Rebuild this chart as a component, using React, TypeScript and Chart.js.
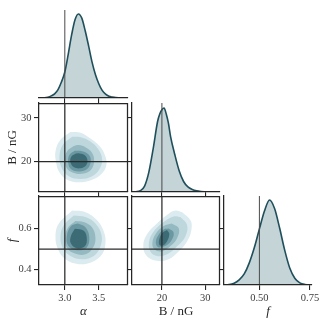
import React, { useEffect, useRef } from "react";
import { Chart, registerables } from "chart.js";

Chart.register(...registerables);

const PAGE_W = 324;
const PAGE_H = 323;

// ---------------- data ----------------
const TRUE_ALPHA = 3.0;
const TRUE_B = 20;
const TRUE_F = 0.5;

const ALPHA_RANGE = [2.62, 3.93];
const B_RANGE = [13.1, 33.4];
const F_RANGE = [0.325, 0.76];

const ALPHA_TICKS = [3.0, 3.5];
const ALPHA_TICK_LABELS = ["3.0", "3.5"];
const B_TICKS = [20, 30];
const B_TICK_LABELS = ["20", "30"];
const F_TICKS_Y = [0.4, 0.6];
const F_TICK_LABELS_Y = ["0.4", "0.6"];
const F_TICKS_X = [0.5, 0.75];
const F_TICK_LABELS_X = ["0.50", "0.75"];

const ALPHA_GRID = [2.62, 2.7, 2.75, 2.8, 2.85, 2.9, 2.95, 3.0, 3.05, 3.1, 3.15, 3.2, 3.25, 3.3, 3.35, 3.4, 3.45, 3.5, 3.55, 3.6, 3.65, 3.7, 3.75, 3.8, 3.85, 3.93];
const ALPHA_DENSITY = [0.0005, 0.003, 0.01, 0.025, 0.05, 0.1, 0.19, 0.31, 0.52, 0.75, 0.93, 1.0, 0.95, 0.8, 0.62, 0.43, 0.28, 0.17, 0.09, 0.045, 0.02, 0.01, 0.004, 0.002, 0.001, 0.0];

const B_GRID = [13.1, 14, 15, 16, 17, 18, 19, 19.5, 20, 20.5, 21, 21.5, 22, 23, 24, 25, 26, 27, 28, 29, 30, 31, 32, 33.4];
const B_DENSITY = [0.0, 0.003, 0.015, 0.07, 0.24, 0.52, 0.84, 0.93, 0.98, 1.0, 0.93, 0.82, 0.66, 0.44, 0.25, 0.125, 0.06, 0.03, 0.014, 0.006, 0.003, 0.001, 0.0, 0.0];

const F_GRID = [0.325, 0.35, 0.375, 0.4, 0.425, 0.45, 0.475, 0.5, 0.525, 0.55, 0.575, 0.6, 0.625, 0.65, 0.675, 0.7, 0.725, 0.76];
const F_DENSITY = [0.001, 0.004, 0.02, 0.06, 0.13, 0.26, 0.44, 0.66, 0.87, 1.0, 0.9, 0.67, 0.41, 0.2, 0.08, 0.025, 0.006, 0.0];

// peak-relative density axis maxima
const ALPHA_DMAX = 1.047;
const B_DMAX = 1.06;
const F_DMAX = 1.047;

// filled density contours, outermost first: [x, y] in data units
const AB_L1 = [[3.083, 26.8], [2.936, 25.0], [2.863, 22.4], [2.873, 19.8], [2.92, 17.6], [3.034, 15.9], [3.206, 15.3], [3.402, 15.9], [3.549, 17.4], [3.613, 19.4], [3.588, 21.6], [3.51, 23.6], [3.377, 25.3], [3.23, 26.6]];
const AB_L2 = [[3.108, 25.7], [2.971, 23.85], [2.922, 21.26], [2.951, 18.67], [3.059, 16.67], [3.23, 16.07], [3.402, 16.67], [3.515, 18.44], [3.549, 20.67], [3.49, 22.9], [3.377, 24.6], [3.245, 25.55]];
const AB_L3 = [[3.132, 23.6], [3.034, 22.4], [3.0, 20.4], [3.034, 18.4], [3.147, 17.4], [3.279, 17.3], [3.392, 18.3], [3.431, 20.15], [3.402, 22.0], [3.304, 23.3], [3.206, 23.8]];
const AB_L4 = [[3.147, 22.5], [3.069, 21.6], [3.049, 19.9], [3.093, 18.3], [3.216, 17.8], [3.333, 18.4], [3.382, 20.1], [3.353, 21.6], [3.255, 22.4]];
const AB_L5 = [[3.157, 21.8], [3.093, 21.1], [3.083, 19.9], [3.132, 18.8], [3.23, 18.5], [3.314, 19.2], [3.333, 20.4], [3.294, 21.5], [3.216, 21.9]];

const AF_L1 = [[3.108, 0.689], [2.912, 0.625], [2.863, 0.562], [2.902, 0.498], [3.01, 0.451], [3.206, 0.427], [3.402, 0.438], [3.549, 0.475], [3.598, 0.53], [3.574, 0.586], [3.475, 0.641], [3.304, 0.681]];
const AF_L2 = [[3.132, 0.665], [2.985, 0.617], [2.936, 0.562], [2.971, 0.506], [3.083, 0.467], [3.255, 0.451], [3.426, 0.467], [3.525, 0.514], [3.539, 0.57], [3.451, 0.625], [3.304, 0.657]];
const AF_L3 = [[3.157, 0.638], [3.049, 0.606], [3.0, 0.554], [3.034, 0.506], [3.147, 0.479], [3.304, 0.475], [3.412, 0.506], [3.451, 0.554], [3.402, 0.606], [3.279, 0.633]];
const AF_L4 = [[3.191, 0.625], [3.09, 0.612], [3.03, 0.565], [3.05, 0.517], [3.176, 0.495], [3.32, 0.507], [3.36, 0.56], [3.3, 0.608]];
const AF_L5 = [[3.147, 0.6], [3.088, 0.562], [3.088, 0.529], [3.176, 0.505], [3.294, 0.514], [3.324, 0.552], [3.279, 0.59]];

const BF_L1 = [[24.65, 0.681], [26.6, 0.641], [26.8, 0.594], [25.8, 0.538], [23.9, 0.49], [21.55, 0.451], [18.84, 0.443], [16.5, 0.467], [15.7, 0.514], [16.5, 0.57], [18.84, 0.625], [21.55, 0.673], [23.1, 0.689]];
const BF_L2 = [[24.26, 0.657], [25.8, 0.618], [25.4, 0.562], [23.5, 0.514], [21.2, 0.475], [18.84, 0.467], [17.3, 0.49], [17.05, 0.538], [18.1, 0.586], [20.4, 0.633], [22.7, 0.66]];
const BF_L3 = [[22.3, 0.625], [23.9, 0.601], [23.5, 0.554], [21.9, 0.514], [20.0, 0.49], [18.3, 0.498], [17.8, 0.53], [18.6, 0.575], [20.4, 0.613]];
const BF_L4 = [[21.55, 0.601], [22.7, 0.581], [22.2, 0.543], [20.6, 0.514], [19.07, 0.511], [18.6, 0.538], [19.4, 0.575], [20.5, 0.597]];
const BF_L5 = [[21.16, 0.594], [21.7, 0.575], [21.16, 0.538], [20.16, 0.518], [19.4, 0.522], [19.4, 0.549], [20.16, 0.581]];

// ---------------- styling / layout ----------------
const SERIF = '"Liberation Serif", "DejaVu Serif", "Times New Roman", serif';
const INK = "#262626";
const TICK_TEXT = "#3c3c3c";
const TITLE_TEXT = "#262626";
const KDE_LINE = "#1f4f5b";
const KDE_FILL = "#c4d4d7";
const LEVEL_COLORS = ["#dcebef", "#bdd7dd", "#94b9c1", "#6a97a1", "#3d6b75"];

const COLS = [{ l: 39, r: 128 }, { l: 132, r: 220 }, { l: 224, r: 312 }];
const ROWS = [{ t: 10, b: 98 }, { t: 103, b: 192 }, { t: 196, b: 285 }];
const FULL_X = PAGE_H - ROWS[2].b;
const FULL_Y = COLS[0].l;
const TICK_ONLY = 6;

type Mode = "ticks" | "full";

function axis(
  pos: "bottom" | "left",
  range: number[],
  ticks: number[],
  labels: string[],
  mode: Mode,
  title?: string,
  italic?: boolean
): any {
  const isX = pos === "bottom";
  const size = mode === "full" ? (isX ? FULL_X : FULL_Y) : TICK_ONLY;
  return {
    type: "linear",
    position: pos,
    min: range[0],
    max: range[1],
    display: true,
    afterBuildTicks: (s: any) => {
      s.ticks = ticks.map((v) => ({ value: v }));
    },
    afterFit: (s: any) => {
      if (isX) s.height = size;
      else s.width = size;
    },
    grid: { display: true, drawOnChartArea: false, drawTicks: true, tickLength: 5, color: INK, lineWidth: 1.1 },
    border: { display: true, color: INK, width: 1.25, z: 1 },
    ticks: {
      display: mode === "full",
      padding: isX ? 2 : 2.5,
      color: TICK_TEXT,
      font: { family: SERIF, size: 10.5 },
      maxRotation: 0,
      autoSkip: false,
      callback: (_v: any, i: number) => labels[i],
    },
    title: title
      ? {
          display: true,
          text: title,
          color: TITLE_TEXT,
          font: { family: SERIF, size: 13, style: italic ? "italic" : "normal" },
          padding: isX ? { top: 0, bottom: 3.2 } : { top: 4.5, bottom: 0 },
        }
      : { display: false },
  };
}

function hiddenAxis(range: number[], pos: "left" | "right" = "right"): any {
  return { type: "linear", position: pos, min: range[0], max: range[1], display: false };
}

function padding(col: number, row: number, yW: number, xH: number) {
  return {
    left: COLS[col].l - yW,
    top: ROWS[row].t,
    right: PAGE_W - COLS[col].r,
    bottom: PAGE_H - ROWS[row].b - xH,
  };
}

function closed(pairs: number[][]) {
  const pts = pairs.map(([x, y]) => ({ x, y }));
  pts.push({ ...pts[0] });
  return pts;
}

function contourSets(levels: number[][][]) {
  return levels.map((lvl, i) => ({
    data: closed(lvl),
    showLine: true,
    fill: "shape",
    backgroundColor: LEVEL_COLORS[i],
    borderColor: "rgba(0,0,0,0)",
    borderWidth: 0,
    pointRadius: 0,
    tension: 0.4,
    order: 20 - i,
  }));
}

function line(x0: number, y0: number, x1: number, y1: number, color: string, width: number, yAxisID = "y") {
  return {
    data: [{ x: x0, y: y0 }, { x: x1, y: y1 }],
    showLine: true,
    fill: false,
    borderColor: color,
    borderWidth: width,
    pointRadius: 0,
    order: 0,
    yAxisID,
  };
}

function kde(grid: number[], dens: number[]) {
  return {
    data: grid.map((x, i) => ({ x, y: dens[i] })),
    showLine: true,
    fill: "origin",
    backgroundColor: KDE_FILL,
    borderColor: KDE_LINE,
    borderWidth: 1.6,
    pointRadius: 0,
    cubicInterpolationMode: "monotone",
    yAxisID: "yD",
    order: 1,
  };
}

const framePlugin = {
  id: "frame",
  afterDatasetsDraw(chart: any, _a: any, opts: any) {
    if (!opts || !opts.on) return;
    const { ctx, chartArea: a } = chart;
    ctx.save();
    ctx.strokeStyle = INK;
    ctx.lineWidth = 1.25;
    ctx.beginPath();
    ctx.moveTo(Math.round(a.left), Math.round(a.top) + 0.5);
    ctx.lineTo(Math.round(a.right) - 0.5, Math.round(a.top) + 0.5);
    ctx.lineTo(Math.round(a.right) - 0.5, Math.round(a.bottom));
    ctx.stroke();
    ctx.restore();
  },
};

function baseOptions(pad: any, scales: any, frame: boolean): any {
  return {
    responsive: false,
    animation: false,
    events: [],
    devicePixelRatio: 1,
    layout: { padding: pad, autoPadding: false },
    plugins: { legend: { display: false }, tooltip: { enabled: false }, frame: { on: frame } },
    scales,
  };
}

const TRUTH_2D = "#2a2a2a";
const TRUTH_DIAG = "#4a4a4a";

function buildConfigs(): any[] {
  const cfgs: any[] = [];

  // (0,0) alpha marginal
  cfgs.push({
    type: "scatter",
    data: {
      datasets: [
        line(TRUE_ALPHA, 0, TRUE_ALPHA, ALPHA_DMAX, TRUTH_DIAG, 1, "yD"),
        kde(ALPHA_GRID, ALPHA_DENSITY),
      ],
    },
    options: baseOptions(padding(0, 0, 0, TICK_ONLY), {
      x: axis("bottom", ALPHA_RANGE, ALPHA_TICKS, ALPHA_TICK_LABELS, "ticks"),
      yD: hiddenAxis([0, ALPHA_DMAX]),
    }, false),
  });

  // (1,0) alpha vs B
  cfgs.push({
    type: "scatter",
    data: {
      datasets: [
        line(TRUE_ALPHA, B_RANGE[0], TRUE_ALPHA, B_RANGE[1], TRUTH_2D, 1.25),
        line(ALPHA_RANGE[0], TRUE_B, ALPHA_RANGE[1], TRUE_B, TRUTH_2D, 1.25),
        ...contourSets([AB_L1, AB_L2, AB_L3, AB_L4, AB_L5]),
      ],
    },
    options: baseOptions(padding(0, 1, FULL_Y, TICK_ONLY), {
      x: axis("bottom", ALPHA_RANGE, ALPHA_TICKS, ALPHA_TICK_LABELS, "ticks"),
      y: axis("left", B_RANGE, B_TICKS, B_TICK_LABELS, "full", "B / nG"),
    }, true),
  });

  // (1,1) B marginal
  cfgs.push({
    type: "scatter",
    data: {
      datasets: [
        line(TRUE_B, 0, TRUE_B, B_DMAX, TRUTH_DIAG, 1, "yD"),
        kde(B_GRID, B_DENSITY),
      ],
    },
    options: baseOptions(padding(1, 1, TICK_ONLY, TICK_ONLY), {
      x: axis("bottom", B_RANGE, B_TICKS, B_TICK_LABELS, "ticks"),
      y: axis("left", B_RANGE, B_TICKS, B_TICK_LABELS, "ticks"),
      yD: hiddenAxis([0, B_DMAX]),
    }, false),
  });

  // (2,0) alpha vs f
  cfgs.push({
    type: "scatter",
    data: {
      datasets: [
        line(TRUE_ALPHA, F_RANGE[0], TRUE_ALPHA, F_RANGE[1], TRUTH_2D, 1.25),
        line(ALPHA_RANGE[0], TRUE_F, ALPHA_RANGE[1], TRUE_F, TRUTH_2D, 1.25),
        ...contourSets([AF_L1, AF_L2, AF_L3, AF_L4, AF_L5]),
      ],
    },
    options: baseOptions(padding(0, 2, FULL_Y, FULL_X), {
      x: axis("bottom", ALPHA_RANGE, ALPHA_TICKS, ALPHA_TICK_LABELS, "full", "α", true),
      y: axis("left", F_RANGE, F_TICKS_Y, F_TICK_LABELS_Y, "full", "f", true),
    }, true),
  });

  // (2,1) B vs f
  cfgs.push({
    type: "scatter",
    data: {
      datasets: [
        line(TRUE_B, F_RANGE[0], TRUE_B, F_RANGE[1], TRUTH_2D, 1.25),
        line(B_RANGE[0], TRUE_F, B_RANGE[1], TRUE_F, TRUTH_2D, 1.25),
        ...contourSets([BF_L1, BF_L2, BF_L3, BF_L4, BF_L5]),
      ],
    },
    options: baseOptions(padding(1, 2, TICK_ONLY, FULL_X), {
      x: axis("bottom", B_RANGE, B_TICKS, B_TICK_LABELS, "full", "B / nG"),
      y: axis("left", F_RANGE, F_TICKS_Y, F_TICK_LABELS_Y, "ticks"),
    }, true),
  });

  // (2,2) f marginal
  cfgs.push({
    type: "scatter",
    data: {
      datasets: [
        line(TRUE_F, 0, TRUE_F, F_DMAX, TRUTH_DIAG, 1, "yD"),
        kde(F_GRID, F_DENSITY),
      ],
    },
    options: baseOptions(padding(2, 2, TICK_ONLY, FULL_X), {
      x: axis("bottom", F_RANGE, F_TICKS_X, F_TICK_LABELS_X, "full", "f", true),
      y: axis("left", F_RANGE, F_TICKS_Y, F_TICK_LABELS_Y, "ticks"),
      yD: hiddenAxis([0, F_DMAX]),
    }, false),
  });

  return cfgs;
}

function Panel({ index }: { index: number }) {
  const ref = useRef<HTMLCanvasElement | null>(null);
  useEffect(() => {
    const cfg = buildConfigs()[index];
    cfg.plugins = [framePlugin];
    const chart = new Chart(ref.current as HTMLCanvasElement, cfg);
    return () => chart.destroy();
  }, [index]);
  return (
    <canvas
      ref={ref}
      width={PAGE_W}
      height={PAGE_H}
      style={{ position: "absolute", left: 0, top: 0, width: PAGE_W, height: PAGE_H }}
    />
  );
}

export default function App() {
  return (
    <div
      style={{
        position: "fixed",
        left: 0,
        top: 0,
        width: PAGE_W,
        height: PAGE_H,
        background: "#ffffff",
        overflow: "hidden",
      }}
    >
      {[0, 1, 2, 3, 4, 5].map((i) => (
        <Panel key={i} index={i} />
      ))}
    </div>
  );
}
